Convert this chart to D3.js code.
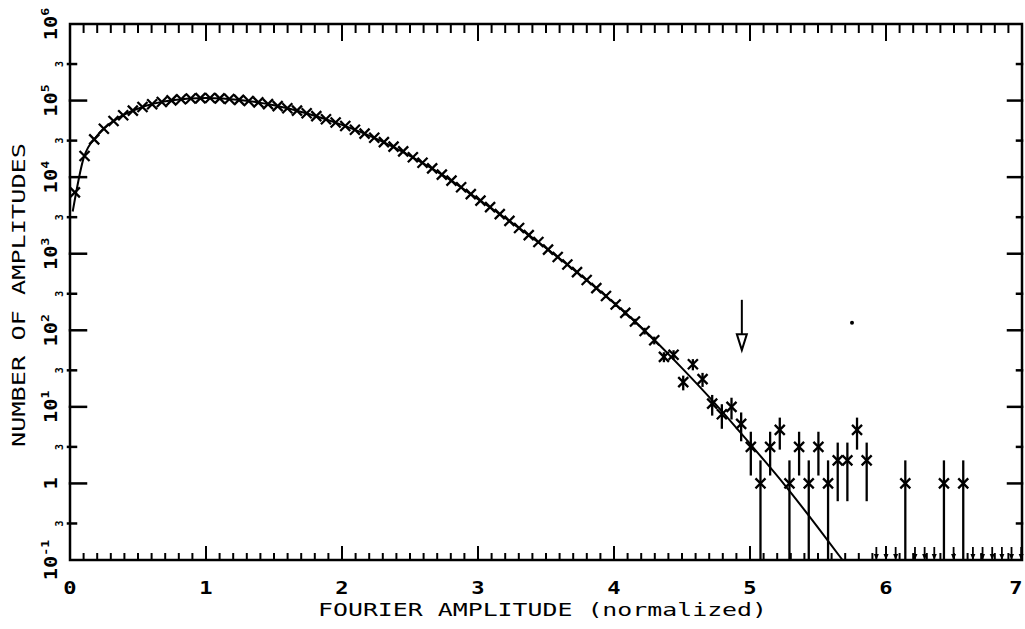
<!DOCTYPE html>
<html>
<head>
<meta charset="utf-8">
<script src="https://cdn.jsdelivr.net/npm/d3@7"></script>
<style>
  body { margin: 0; background: #fff; }
  text { font-family: "DejaVu Sans Mono", monospace; fill: #000; }
</style>
</head>
<body>
<script>
// histogram bin centres (normalized Fourier amplitude) and counts
var binCentres = [
  0.036, 0.107, 0.178, 0.249, 0.320, 0.391, 0.462, 0.533, 0.604, 0.675,
  0.746, 0.817, 0.888, 0.959, 1.030, 1.101, 1.172, 1.243, 1.314, 1.385,
  1.456, 1.527, 1.598, 1.669, 1.740, 1.811, 1.882, 1.953, 2.024, 2.095,
  2.166, 2.237, 2.308, 2.379, 2.450, 2.521, 2.592, 2.663, 2.734, 2.805,
  2.876, 2.947, 3.018, 3.089, 3.160, 3.231, 3.302, 3.373, 3.444, 3.515,
  3.586, 3.657, 3.728, 3.799, 3.870, 3.941, 4.012, 4.083, 4.154, 4.225,
  4.296, 4.367, 4.438, 4.509, 4.580, 4.651, 4.722, 4.793, 4.864, 4.935,
  5.006, 5.077, 5.148, 5.219, 5.290, 5.361, 5.432, 5.503, 5.574, 5.645,
  5.716, 5.787, 5.858,
  6.142, 6.426, 6.568
];
var counts = [
  6320, 18860, 31110, 42890, 54060, 64420, 73870, 82310, 89580, 95680,
  100500, 104200, 106600, 107800, 107900, 106900, 105000, 102200, 98700, 94550,
  89870, 84770, 79390, 73860, 68220, 62600, 57060, 51670, 46510, 41590,
  36970, 32660, 28680, 25020, 21710, 18170, 15420, 13000, 10800, 9000,
  7380, 6010, 4930, 4060, 3290, 2680, 2170, 1750, 1420, 1130,
  907, 724, 574, 453, 355, 280, 217, 169, 130, 98,
  74, 45, 48, 21, 36, 23, 11, 8, 10, 6,
  3, 1, 3, 5, 1, 3, 1, 3, 1, 2,
  2, 5, 2,
  1, 1, 1
];
// empty bins, drawn as small arrows on the axis
var emptyBins = [5.929, 6.000, 6.071, 6.213, 6.284, 6.355, 6.497, 6.639, 6.710, 6.781, 6.852, 6.923, 6.994];

// expected distribution (solid line)
var curveA = [0.02, 0.1, 0.2, 0.35, 0.5, 0.75, 1.0, 1.25, 1.5, 1.75, 2.0, 2.25, 2.5, 2.75, 3.0, 3.25, 3.5, 3.75, 4.0, 4.25, 4.5, 4.75, 5.0, 5.25, 5.5, 5.68];
var curveN = [3560, 17720, 34900, 58600, 78600, 100800, 108000, 101900, 86750, 67370, 48180, 31870, 19000, 10380, 5160, 2530, 1186, 531, 227, 90, 32, 10.7, 3.3, 0.98, 0.265, 0.1];

var xTicks = [0, 1, 2, 3, 4, 5, 6, 7];
var decades = [0.1, 1, 10, 100, 1000, 1e4, 1e5, 1e6];
var decadeExp = ["-1", "", "1", "2", "3", "4", "5", "6"];
var threes = [0.3, 3, 30, 300, 3000, 3e4, 3e5];

// annotation arrow (amplitude, top/bottom in counts)
var markA = 4.94, markTop = 250, markBottom = 55;

var width = 1025, height = 629;
var margin = { top: 24, right: 3, bottom: 69, left: 70 };

var x = d3.scaleLinear().domain([0, 7]).range([margin.left, width - margin.right]);
var y = d3.scaleLog().domain([0.1, 1e6]).range([height - margin.bottom, margin.top]);

var svg = d3.select("body").append("svg")
    .attr("width", width)
    .attr("height", height);

var x0 = x(0), x1 = x(7), y0 = y(0.1), y1 = y(1e6);

//FRAME + TICKS
var ax = svg.append("g").attr("stroke", "#000").attr("stroke-linecap", "square");

ax.append("rect")
  .attr("x", x0).attr("y", y1)
  .attr("width", x1 - x0).attr("height", y0 - y1)
  .attr("fill", "none").attr("stroke-width", 2.5);

var minorX = d3.range(1, 70).map(function(i) { return i / 10; });

ax.selectAll(".bt").data(minorX).enter().append("line")
  .attr("x1", function(d) { return x(d); }).attr("x2", function(d) { return x(d); })
  .attr("y1", y0)
  .attr("y2", function(d) { return Math.abs(d - Math.round(d)) < 1e-6 ? y0 - 13 : y0 - 6; })
  .attr("stroke-width", 2);

ax.selectAll(".tt").data(minorX).enter().append("line")
  .attr("x1", function(d) { return x(d); }).attr("x2", function(d) { return x(d); })
  .attr("y1", y1)
  .attr("y2", function(d) { return Math.abs(d - Math.round(d)) < 1e-6 ? y1 + 16 : y1 + 8; })
  .attr("stroke-width", 2);

ax.selectAll(".ld").data(decades.slice(1, -1)).enter().append("line")
  .attr("x1", x0).attr("x2", x0 + 16)
  .attr("y1", function(d) { return y(d); }).attr("y2", function(d) { return y(d); })
  .attr("stroke-width", 2.5);

ax.selectAll(".l3").data(threes).enter().append("line")
  .attr("x1", x0 - 2).attr("x2", x0 + 6)
  .attr("y1", function(d) { return y(d); }).attr("y2", function(d) { return y(d); })
  .attr("stroke-width", 2.5);

ax.selectAll(".rd").data(decades.slice(1, -1)).enter().append("line")
  .attr("x1", x1).attr("x2", x1 - 14)
  .attr("y1", function(d) { return y(d); }).attr("y2", function(d) { return y(d); })
  .attr("stroke-width", 2.5);

ax.selectAll(".r3").data(threes).enter().append("line")
  .attr("x1", x1).attr("x2", x1 - 5)
  .attr("y1", function(d) { return y(d); }).attr("y2", function(d) { return y(d); })
  .attr("stroke-width", 2.5);

//LABELS
svg.selectAll(".xl").data(xTicks).enter().append("text")
  .attr("transform", function(d) { return "translate(" + Math.min(x(d), 1016) + ",594) scale(1.3,1)"; })
  .attr("text-anchor", "middle")
  .attr("font-size", 17)
  .attr("font-weight", "bold")
  .text(function(d) { return d; });

var yl = svg.selectAll(".yl").data(decades).enter().append("text")
  .attr("transform", function(d) { return "translate(57," + y(d) + ") rotate(-90) scale(1.2,1)"; })
  .attr("text-anchor", "middle")
  .attr("font-size", 17)
  .attr("font-weight", "bold");
yl.append("tspan").text(function(d, i) { return decadeExp[i] === "" ? "1" : "10"; });
yl.append("tspan")
  .attr("font-size", 11)
  .attr("dy", -8)
  .text(function(d, i) { return decadeExp[i]; });

svg.selectAll(".y3").data(threes).enter().append("text")
  .attr("transform", function(d) { return "translate(63," + y(d) + ") rotate(-90)"; })
  .attr("text-anchor", "middle")
  .attr("font-size", 10)
  .attr("font-weight", "bold")
  .text("3");

svg.append("text")
  .attr("x", 318).attr("y", 616)
  .attr("font-size", 17)
  .attr("textLength", 449).attr("lengthAdjust", "spacingAndGlyphs")
  .text("FOURIER AMPLITUDE (normalized)");

svg.append("text")
  .attr("transform", "translate(25,447) rotate(-90)")
  .attr("font-size", 17)
  .attr("textLength", 304).attr("lengthAdjust", "spacingAndGlyphs")
  .text("NUMBER OF AMPLITUDES");

//CURVE
var line = d3.line()
  .x(function(d) { return x(d[0]); })
  .y(function(d) { return y(d[1]); })
  .curve(d3.curveMonotoneX);

svg.append("path")
  .datum(d3.zip(curveA, curveN))
  .attr("d", line)
  .attr("fill", "none")
  .attr("stroke", "#000")
  .attr("stroke-width", 2);

//POINTS
var pts = d3.zip(binCentres, counts);
var g = svg.append("g").attr("stroke", "#000").attr("stroke-width", 2.3);

g.selectAll(".err").data(pts).enter().append("line")
  .attr("x1", function(d) { return x(d[0]); }).attr("x2", function(d) { return x(d[0]); })
  .attr("y1", function(d) { return y(d[1] + Math.sqrt(d[1])); })
  .attr("y2", function(d) { var lo = d[1] - Math.sqrt(d[1]); return lo > 0.1 ? y(lo) : y0; });

var s = 5;
g.selectAll(".mk").data(pts).enter().append("path")
  .attr("d", function(d) {
    var cx = x(d[0]), cy = y(d[1]);
    return "M" + (cx - s) + "," + (cy - s) + "L" + (cx + s) + "," + (cy + s) +
           "M" + (cx - s) + "," + (cy + s) + "L" + (cx + s) + "," + (cy - s);
  });

// zero-count bins
g.selectAll(".zb").data(emptyBins).enter().append("path")
  .attr("stroke-width", 1.8)
  .attr("d", function(d) { var cx = x(d); return "M" + cx + "," + (y0 - 13) + "L" + cx + "," + y0; });
svg.selectAll(".zh").data(emptyBins).enter().append("path")
  .attr("fill", "#000")
  .attr("d", function(d) { var cx = x(d); return "M" + (cx - 2.5) + "," + (y0 - 6) + "L" + (cx + 2.5) + "," + (y0 - 6) + "L" + cx + "," + y0 + "Z"; });

// marker arrow
var ay0 = y(markTop), ay1 = y(markBottom), axx = x(markA);
svg.append("path")
  .attr("d", "M" + axx + "," + ay0 + "L" + axx + "," + (ay1 - 16))
  .attr("stroke", "#000").attr("stroke-width", 2);
svg.append("path")
  .attr("d", "M" + (axx - 5) + "," + (ay1 - 16) + "L" + (axx + 5) + "," + (ay1 - 16) + "L" + axx + "," + ay1 + "Z")
  .attr("fill", "#fff").attr("stroke", "#000").attr("stroke-width", 2);

// speck on the original print
svg.append("circle").attr("cx", x(5.75)).attr("cy", y(125)).attr("r", 2).attr("fill", "#000");
</script>
</body>
</html>
